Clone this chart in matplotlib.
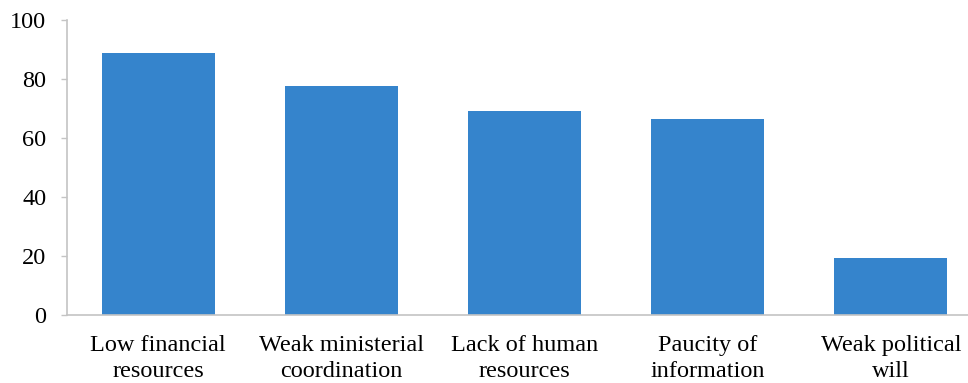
import matplotlib.pyplot as plt
import numpy as np

categories = ['Low financial\nresources', 'Weak ministerial\ncoordination',
              'Lack of human\nresources', 'Paucity of\ninformation',
              'Weak political\nwill']
values = [88.9, 77.7, 69.3, 66.5, 19.3]
y_ticks = [0, 20, 40, 60, 80, 100]

plt.rcParams['font.family'] = 'Liberation Serif'

fig = plt.figure(figsize=(9.68, 3.83), dpi=100)
ax = fig.add_axes([66.5 / 968, 67.7 / 383, 916 / 968, 295 / 383])

x = np.arange(len(categories))
ax.bar(x, values, width=0.616, color='#3584cc')

ax.set_xlim(-0.5, 4.5)
ax.set_ylim(0, 100)
ax.set_yticks(y_ticks)
ax.set_xticks(x)
ax.set_xticklabels(categories, linespacing=1.3)

for s in ['top', 'right']:
    ax.spines[s].set_visible(False)
for s in ['left', 'bottom']:
    ax.spines[s].set_color('#c4c4c4')
    ax.spines[s].set_linewidth(1.2)

ax.tick_params(axis='y', length=4.5, width=1.0, color='#c4c4c4',
               pad=10, labelsize=17.5)
ax.tick_params(axis='x', length=0, pad=14, labelsize=17.5)

fig.savefig('out.png', dpi=100)
